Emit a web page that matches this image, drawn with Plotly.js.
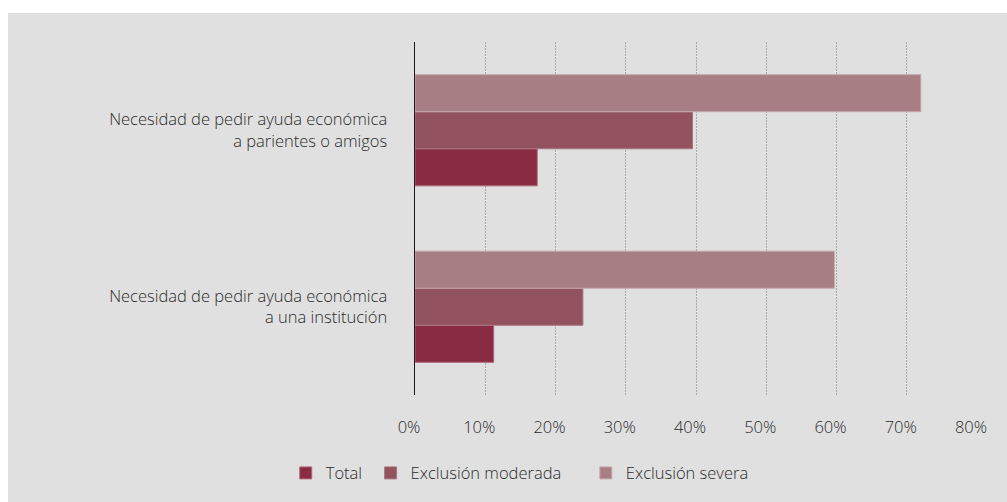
<!DOCTYPE html>
<html>
<head>
<meta charset="utf-8">
<script src="https://cdn.plot.ly/plotly-3.0.1.min.js"></script>
<style>
  html, body { margin: 0; padding: 0; background: #ffffff; }
  #chart { position: absolute; left: 8px; top: 13px; width: 999px; height: 489px; }
</style>
</head>
<body>
<div id="chart"></div>
<script>
const categories = [
  "Necesidad de pedir ayuda económica<br>a una institución",
  "Necesidad de pedir ayuda económica<br>a parientes o amigos"
];
const seriesNames = ["Total", "Exclusión moderada", "Exclusión severa"];
const totalValues = [11.2, 17.4];
const moderadaValues = [23.9, 39.5];
const severaValues = [59.7, 72.0];
const xTickValues = [0, 10, 20, 30, 40, 50, 60, 70, 80];
const xTickLabels = ["0%", "10%", "20%", "30%", "40%", "50%", "60%", "70%", "80%"];

const colors = ["#882b43", "#92525e", "#a67e84"];
const lineColors = ["#b0687a", "#a87680", "#c8a8ad"];
const values = [totalValues, moderadaValues, severaValues];
const legendIds = ["legend", "legend2", "legend3"];

const traces = seriesNames.map((name, i) => ({
  type: "bar",
  orientation: "h",
  name: name,
  y: categories,
  x: values[i],
  legend: legendIds[i],
  marker: { color: colors[i], line: { color: lineColors[i], width: 1 } },
  hoverinfo: "x+name"
}));

const font = { family: "'Open Sans', Lato, sans-serif", color: "#2b2b2b", size: 16.5, weight: 300 };

function legendAt(x) {
  return {
    orientation: "h",
    x: x,
    xanchor: "left",
    y: -0.218,
    yanchor: "middle",
    font: font,
    bgcolor: "rgba(0,0,0,0)",
    itemwidth: 30
  };
}

const layout = {
  width: 999,
  height: 489,
  paper_bgcolor: "#e0e0e0",
  plot_bgcolor: "#e0e0e0",
  margin: { l: 407, r: 30, t: 29, b: 106, pad: 0 },
  font: font,
  barmode: "group",
  bargap: 0.37,
  bargroupgap: 0,
  showlegend: true,
  legend: legendAt(-0.230),
  legend2: legendAt(-0.079),
  legend3: legendAt(0.304),
  xaxis: {
    range: [0, 80],
    tickvals: xTickValues,
    ticktext: xTickLabels,
    showgrid: true,
    gridcolor: "#a9a9a9",
    griddash: "2px,1px",
    gridwidth: 1,
    zeroline: false,
    showline: false,
    ticks: "",
    ticklabelstandoff: 20,
    ticklabelshift: -6,
    tickfont: font,
    fixedrange: true
  },
  yaxis: {
    type: "category",
    categoryorder: "array",
    categoryarray: categories,
    showgrid: false,
    zeroline: false,
    showline: true,
    linecolor: "#1a1a1a",
    linewidth: 1.5,
    ticks: "",
    ticklabelstandoff: 23,
    tickfont: font,
    fixedrange: true
  }
};

Plotly.newPlot("chart", traces, layout, { displayModeBar: false, staticPlot: true });
</script>
</body>
</html>
